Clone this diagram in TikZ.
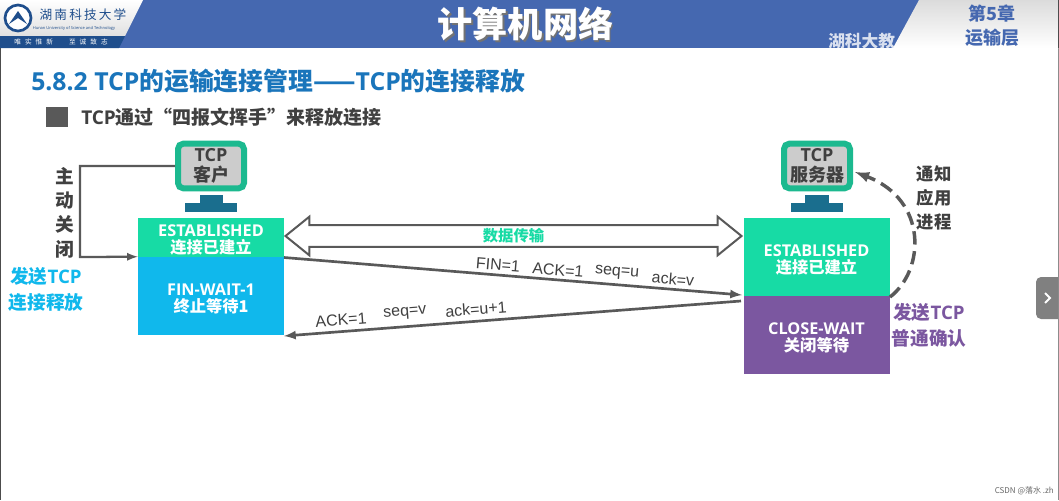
\documentclass[tikz,border=0pt]{standalone}
\usepackage{fontspec}
\usetikzlibrary{shapes.arrows}
\setmainfont{Open Sans}
\newfontfamily\cjk{Noto Sans CJK SC}
\newfontfamily\armfont{Liberation Sans}
\definecolor{bandblue}{HTML}{4568B0}
\definecolor{stripblue}{HTML}{1F4E8C}
\definecolor{headblue}{HTML}{1A75BB}
\definecolor{linegray}{HTML}{595959}
\definecolor{textgray}{HTML}{404040}
\definecolor{estgreen}{HTML}{17DBA5}
\definecolor{monitorgreen}{HTML}{1CB98F}
\definecolor{standblue}{HTML}{1A6E8E}
\definecolor{finblue}{HTML}{10B8EC}
\definecolor{closepurple}{HTML}{7B57A0}
\newcommand{\lowstrut}{\rule{0pt}{13pt}}
\tikzset{
    statebox/.style={minimum width=109.5pt, text=white, align=center, inner sep=0pt, font=\bfseries\fontsize{12.2}{12.75}\selectfont},
    screen/.style={draw=monitorgreen, line width=4.5pt, fill=black!20, rounded corners=4pt, minimum width=49.5pt, minimum height=33.5pt, align=center, inner sep=0pt, text=textgray, font=\bfseries\fontsize{13.5}{15}\selectfont},
    sidelabel/.style={align=center, inner sep=0pt, font=\bfseries\fontsize{14}{19.5}\selectfont},
    flaglabel/.style={inner sep=0pt, text=textgray, font=\armfont\fontsize{12}{13}\selectfont},
    flow/.style={draw=linegray, line width=2pt, -latex},
}
\begin{document}
\begin{tikzpicture}[x=0.75pt, y=-0.75pt]
    \useasboundingbox (0, 0) rectangle (1059, 500);
    \fill[white] (0, 0) rectangle (1059, 500);
    \fill[black!70] (0, 0) rectangle (1, 500);
    \fill[black!45] (1057.5, 0) rectangle (1059, 500);

    % header band
    \fill[bandblue] (0, 0) rectangle (1059, 48);
    \shade[top color=white, bottom color=black!12] (0, 0) -- (143, 0) -- (125, 36) -- (0, 36) -- cycle;
    \fill[stripblue] (0, 36) -- (125, 36) -- (119, 48) -- (0, 48) -- cycle;
    \shade[top color=black!14, bottom color=white] (919, 0) -- (1059, 0) -- (1059, 48) -- (893, 48) -- cycle;
    \fill[black!70] (1058, 0) rectangle (1059, 48);
    \draw[stripblue, line width=2pt, fill=white] (18, 18) circle (13);
    \fill[stripblue] (9, 24) -- (18, 11) -- (27, 24) -- (18, 18) -- cycle;
    \node[inner sep=0pt] (schoolname) at (83, 15) {\cjk\color{stripblue}\fontsize{9.5}{11}\selectfont 湖\,南\,科\,技\,大\,学};
    \node[inner sep=0pt] (schoolen) at (74, 28.5) {\color{stripblue}\fontsize{3}{4}\selectfont Hunan University of Science and Technology};
    \node[inner sep=0pt] (motto) at (61, 42) {\cjk\color{white}\fontsize{5}{6}\selectfont 唯\hspace{3pt}实\hspace{3pt}惟\hspace{3pt}新\hspace{12pt}至\hspace{3pt}诚\hspace{3pt}致\hspace{3pt}志};
    \node[text=black!55] (maintitleshadow) at (527, 25.5) {\cjk\bfseries\fontsize{26.4}{28}\selectfont 计算机网络};
    \node[text=white] (maintitle) at (525.5, 24) {\cjk\bfseries\fontsize{26.4}{28}\selectfont 计算机网络};
    \begin{scope}
        \clip (800, 0) rectangle (900, 48);
        \node[text=white, opacity=0.8, anchor=west, inner sep=0pt] (watermark) at (828, 41) {\cjk\bfseries\fontsize{12.5}{14}\selectfont 湖科大教};
    \end{scope}
    \node[text=bandblue] (chapter) at (992, 14) {\cjk\bfseries\fontsize{13.5}{15}\selectfont 第5章};
    \node[text=bandblue] (layer) at (992, 38) {\cjk\bfseries\fontsize{13.5}{15}\selectfont 运输层};

    % headings
    \node[anchor=west, inner sep=0pt, text=headblue] (heading) at (31, 81) {\bfseries\fontsize{18.6}{20}\selectfont 5.8.2 TCP{\cjk 的运输连接管理——}TCP{\cjk 的连接释放}};
    \fill[linegray] (46, 107) rectangle (68, 127);
    \node[anchor=west, inner sep=0pt, text=textgray] (subheading) at (81, 117) {\bfseries\fontsize{14.25}{15}\selectfont TCP{\cjk 通过“四报文挥手”来释放连接}};

    % client side
    \node[screen] (clientscreen) at (211, 166) {TCP\\{\cjk 客户}};
    \fill[standblue] (200, 195) rectangle (223, 203);
    \fill[standblue] (185, 203) rectangle (237, 212);
    \node[statebox, fill=estgreen, minimum height=29.25pt] (clientest) at (211, 237.5) {\lowstrut ESTABLISHED\\{\cjk 连接已建立}};
    \node[statebox, fill=finblue, minimum height=58.5pt] (clientfin) at (211, 296) {\lowstrut FIN-WAIT-1\\{\cjk 终止等待1}};

    % server side
    \node[screen] (serverscreen) at (817, 166) {TCP\\{\cjk 服务器}};
    \fill[standblue] (805, 195) rectangle (829, 203);
    \fill[standblue] (791, 203) rectangle (843, 212);
    \node[statebox, fill=estgreen, minimum height=59pt] (serverest) at (816.5, 257) {\lowstrut ESTABLISHED\\{\cjk 连接已建立}};
    \node[statebox, fill=closepurple, minimum height=58.5pt] (serverclose) at (816.5, 335) {\lowstrut CLOSE-WAIT\\{\cjk 关闭等待}};

    % data transfer
    \node[double arrow, draw=linegray, line width=1.5pt, minimum height=342pt, minimum width=29pt, double arrow head extend=5pt, double arrow tip angle=78, inner sep=0pt, text=estgreen] (datatransfer) at (513.5, 236) {\cjk\bfseries\fontsize{11.5}{12}\selectfont 数据传输};

    % segments
    \coordinate (finstart) at (284, 257.5);
    \coordinate (finend) at (742, 295);
    \coordinate (ackstart) at (741, 301);
    \coordinate (ackend) at (284, 336);
    \draw[flow] (finstart) -- (finend);
    \draw[flow] (ackstart) -- (ackend);
    \node[flaglabel, rotate=-4.7] (finflag) at (498, 265) {FIN=1};
    \node[flaglabel, rotate=-4.7] (finack) at (558, 270) {ACK=1};
    \node[flaglabel, rotate=-4.7] (finseq) at (617, 273) {seq=u};
    \node[flaglabel, rotate=-4.7] (finacknum) at (673, 279) {ack=v};
    \node[flaglabel, rotate=4.4] (replyack) at (341, 320) {ACK=1};
    \node[flaglabel, rotate=4.4] (replyseq) at (405, 313) {seq=v};
    \node[flaglabel, rotate=4.4] (replyacknum) at (476, 309) {ack=u+1};

    % active close
    \coordinate (closecorner) at (80, 166);
    \coordinate (closebend) at (80, 257);
    \draw[draw=linegray, line width=1.7pt, -latex] (clientscreen.west) -- (closecorner) -- (closebend) -- (clientfin.north west);
    \node[sidelabel, text=textgray] (activeclose) at (64.5, 212.5) {\cjk 主\\[-1.3pt]\cjk 动\\[-1.3pt]\cjk 关\\[-1.3pt]\cjk 闭};
    \node[sidelabel, text=finblue] (sendfin) at (46, 289) {\cjk 发送{\normalfont\bfseries TCP}\\\cjk 连接释放};

    % notify
    \coordinate (notifystart) at (890, 297);
    \coordinate (notifyend) at (855, 172);
    \draw[draw=linegray, line width=2.6pt, dash pattern=on 10pt off 5pt, -latex] (notifystart) .. controls (925, 270) and (928, 200) .. (notifyend);
    \node[sidelabel, text=textgray, font=\bfseries\fontsize{13}{18}\selectfont] (notifyapp) at (934, 198) {\cjk 通知\\\cjk 应用\\\cjk 进程};
    \node[sidelabel, text=closepurple] (sendack) at (929, 325) {\cjk 发送{\normalfont\bfseries TCP}\\\cjk 普通确认};

    % page controls
    \fill[black!50] (1058, 277) -- (1041, 277) arc[start angle=270, end angle=180, radius=5] -- (1036, 314) arc[start angle=180, end angle=90, radius=5] -- (1058, 319) -- cycle;
    \draw[white, line width=1.5pt] (1045, 293) -- (1050, 298) -- (1045, 303);
    \node[text=black!60, anchor=east, inner sep=0pt] (credit) at (1054, 491) {\cjk\fontsize{6}{7}\selectfont CSDN @落水 .zh};
\end{tikzpicture}
\end{document}
